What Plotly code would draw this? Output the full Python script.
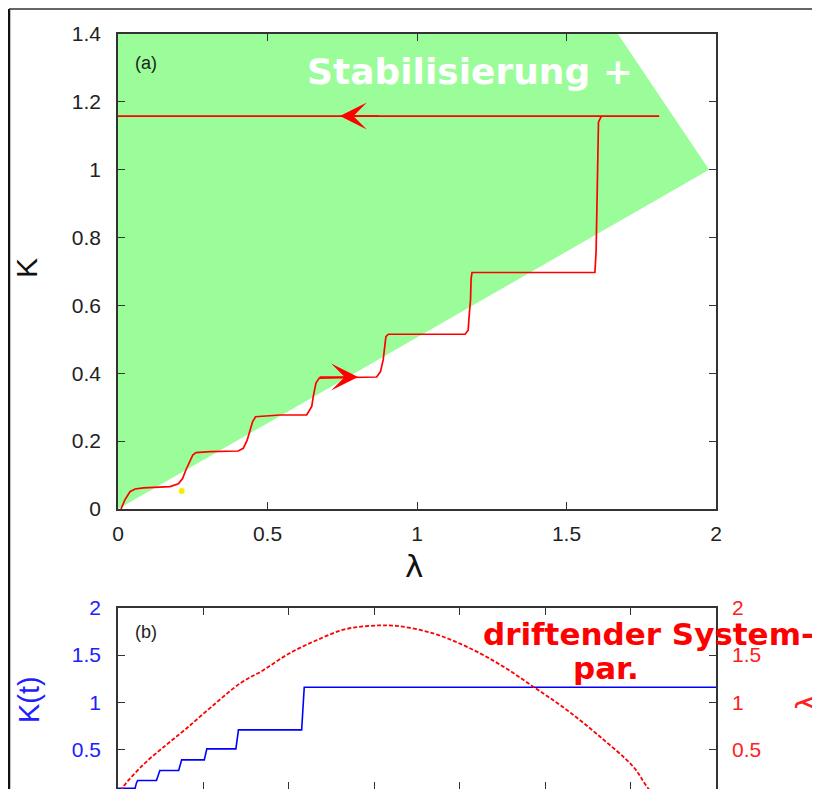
import plotly.graph_objects as go

# ---------------- data: panel (a) ----------------
# green stability region (lambda, K) boundary
region_lam = [0.0, 0.0, 1.672, 1.977, 0.0]
region_K = [0.0, 1.4, 1.4, 1.0, 0.0]

# red trajectory K(lambda)
path_lam = [0.010, 0.012, 0.023, 0.040, 0.057, 0.085, 0.174, 0.202, 0.216, 0.227,
            0.239, 0.250, 0.261, 0.308, 0.402, 0.419, 0.432, 0.441, 0.450, 0.460,
            0.542, 0.631, 0.648, 0.653, 0.662, 0.673, 0.865, 0.878, 0.887, 0.896,
            0.904, 1.161, 1.171, 1.175, 1.179, 1.181, 1.184, 1.595, 1.599, 1.603,
            1.607, 1.617, 1.810, 0.0]
path_K = [0.000, 0.005, 0.027, 0.051, 0.059, 0.062, 0.066, 0.074, 0.090, 0.115,
          0.139, 0.159, 0.166, 0.169, 0.171, 0.179, 0.203, 0.233, 0.257, 0.272,
          0.277, 0.277, 0.302, 0.331, 0.371, 0.386, 0.389, 0.405, 0.440, 0.508,
          0.515, 0.515, 0.527, 0.576, 0.616, 0.680, 0.697, 0.697, 0.760, 0.950,
          1.141, 1.158, 1.158, 1.158]

# arrow tips on the trajectory
arrow_left = (0.742, 1.158)
arrow_right = (0.803, 0.389)
yellow_dot = (0.213, 0.053)

xa_ticks = [0, 0.5, 1, 1.5, 2]
xa_text = ["0", "0.5", "1", "1.5", "2"]
ya_ticks = [0, 0.2, 0.4, 0.6, 0.8, 1.0, 1.2, 1.4]
ya_text = ["0", "0.2", "0.4", "0.6", "0.8", "1", "1.2", "1.4"]

# ---------------- data: panel (b) ----------------
t_K = [0.0, 0.20, 0.215, 0.23, 0.45, 0.47, 0.49, 0.71, 0.73, 0.745, 1.01, 1.025,
       1.04, 1.38, 1.395, 1.41, 2.15, 2.16, 2.17, 2.18, 7.0]
K_t = [0.085, 0.085, 0.14, 0.168, 0.168, 0.23, 0.274, 0.274, 0.35, 0.387, 0.387,
       0.46, 0.504, 0.504, 0.64, 0.706, 0.706, 0.85, 1.05, 1.159, 1.159]

t_lam = [0.0, 0.06, 0.30, 0.57, 0.80, 1.08, 1.43, 1.70, 2.01, 2.33, 2.64, 2.95,
         3.26, 3.69, 4.08, 4.47, 4.86, 5.25, 5.64, 6.03, 6.19, 6.40]
lam_t = [0.0, 0.10, 0.34, 0.55, 0.72, 0.94, 1.20, 1.34, 1.52, 1.66, 1.77, 1.81,
         1.81, 1.73, 1.59, 1.40, 1.165, 0.92, 0.635, 0.316, 0.104, -0.15]

yb_ticks = [0, 0.5, 1, 1.5, 2]
yb_text = ["0", "0.5", "1", "1.5", "2"]
xb_ticks = [0, 1, 2, 3, 4, 5, 6, 7]

# ---------------- figure ----------------
# page has an 8px body margin, so the figure is 8px smaller than the window
OFF = 8
W, H = 820 - OFF, 789 - OFF
ML, MR, MT, MB = 118 - OFF, 104, 34 - OFF, 0
PW, PH = W - ML - MR, H - MT - MB


def px_x(p):  # reference page pixel -> paper x
    return (p - OFF - ML) / PW


def px_y(p):  # reference page pixel -> paper y
    return (H - MB - (p - OFF)) / PH


RED = "#ff0000"
BLUE = "#0000ff"
GREEN = "#9bfd99"
AX = "#333333"
FONT = "Liberation Sans, Arial, sans-serif"

fig = go.Figure()

fig.add_trace(go.Scatter(x=region_lam, y=region_K, fill="toself", fillcolor=GREEN,
                         mode="lines", line=dict(width=0, color=GREEN),
                         hoverinfo="skip", xaxis="x", yaxis="y"))
fig.add_trace(go.Scatter(x=path_lam, y=path_K, mode="lines",
                         line=dict(color=RED, width=1.7), xaxis="x", yaxis="y"))
fig.add_trace(go.Scatter(x=[yellow_dot[0]], y=[yellow_dot[1]], mode="markers",
                         marker=dict(color="#f6ee00", size=6),
                         xaxis="x", yaxis="y"))

fig.add_trace(go.Scatter(x=t_lam, y=lam_t, mode="lines", line_shape="spline",
                         line=dict(color=RED, width=1.8, dash="4px,2px"),
                         xaxis="x2", yaxis="y3"))
fig.add_trace(go.Scatter(x=t_K, y=K_t, mode="lines",
                         line=dict(color=BLUE, width=1.6),
                         xaxis="x2", yaxis="y2"))

common = dict(showgrid=False, zeroline=False, showline=True, linecolor=AX,
              linewidth=1.5, ticks="inside", ticklen=7, tickcolor=AX,
              tickwidth=1.3, automargin=False)

TICKSIZE = 21

fig.update_layout(
    width=W, height=H,
    margin=dict(l=ML, r=MR, t=MT, b=MB, autoexpand=False),
    paper_bgcolor="white", plot_bgcolor="white",
    showlegend=False,
    font=dict(family=FONT, color="#222222"),
    xaxis=dict(domain=[0, 1], range=[0, 2], anchor="y", mirror="ticks",
               tickvals=xa_ticks, ticktext=xa_text,
               tickfont=dict(size=TICKSIZE, color="#222"), ticklabelstandoff=5,
               **common),
    yaxis=dict(domain=[px_y(509), 1], range=[0, 1.4], anchor="x", mirror="ticks",
               tickvals=ya_ticks, ticktext=ya_text,
               tickfont=dict(size=TICKSIZE, color="#222"), ticklabelstandoff=11,
               **common),
    xaxis2=dict(domain=[0, 1], range=[0, 7], anchor="y2", mirror="ticks",
                tickvals=xb_ticks, showticklabels=False, **common),
    yaxis2=dict(domain=[0, px_y(608)], range=[0.078, 2], anchor="x2",
                mirror=True, tickvals=yb_ticks, ticktext=yb_text,
                tickfont=dict(size=TICKSIZE, color="#2020ff"), ticklabelstandoff=11,
                **common),
    yaxis3=dict(overlaying="y2", side="right", range=[0.078, 2], anchor="x2",
                tickvals=yb_ticks, ticktext=yb_text, showgrid=False,
                zeroline=False, showline=False, ticks="inside", ticklen=7,
                tickcolor=AX, tickwidth=1.3, automargin=False,
                tickfont=dict(size=TICKSIZE, color="#ff2020"), ticklabelstandoff=15),
)

ann = []
# arrows on the trajectory
ann.append(dict(x=arrow_left[0], y=arrow_left[1], xref="x", yref="y", ax=40, ay=0,
                text="", showarrow=True, arrowhead=3, arrowsize=3,
                arrowwidth=1.5, arrowcolor=RED, standoff=0))
ann.append(dict(x=arrow_right[0], y=arrow_right[1], xref="x", yref="y", ax=-40, ay=0,
                text="", showarrow=True, arrowhead=3, arrowsize=3,
                arrowwidth=1.5, arrowcolor=RED, standoff=0))


def label(text, x, y, size, color, angle=0, family=FONT, xanchor="center"):
    return dict(x=px_x(x), y=px_y(y), xref="paper", yref="paper", text=text,
                showarrow=False, xanchor=xanchor, yanchor="middle",
                textangle=angle, borderpad=0,
                font=dict(size=size, color=color, family=family))


# panel labels
ann.append(label("(a)", 134, 63, 18, "#222", xanchor="left"))
ann.append(label("(b)", 134, 632, 18, "#222", xanchor="left"))
# axis titles
ann.append(label("K", 26, 268, 30, "#111", angle=-90))
ann.append(label("λ", 414, 566, 31, "#111", family="DejaVu Sans, sans-serif"))
ann.append(label("K(t)", 29, 700, 29, "#2020ff", angle=-90))
ann.append(label("λ", 807, 703, 28, "#ff2020", angle=-90,
                 family="DejaVu Sans, sans-serif"))
# handwritten notes
ann.append(label("<b>Stabilisierung +</b>", 306, 72, 36, "white",
                 family="DejaVu Sans, sans-serif", xanchor="left"))
ann.append(label("<b>driftender System-</b>", 482, 634, 31, RED,
                 family="DejaVu Sans, sans-serif", xanchor="left"))
ann.append(label("<b>par.</b>", 572, 668, 31, RED,
                 family="DejaVu Sans, sans-serif", xanchor="left"))
fig.update_layout(annotations=ann)

# outer slide frame (as close to the page edge as the figure allows)
fig.add_shape(type="line", xref="paper", yref="paper", x0=px_x(9), x1=px_x(9),
              y0=px_y(789), y1=px_y(9), line=dict(color="#111", width=2.5))
fig.add_shape(type="line", xref="paper", yref="paper", x0=px_x(9), x1=px_x(820),
              y0=px_y(9), y1=px_y(9), line=dict(color="#333", width=1.5))

fig.write_html("out.html")
